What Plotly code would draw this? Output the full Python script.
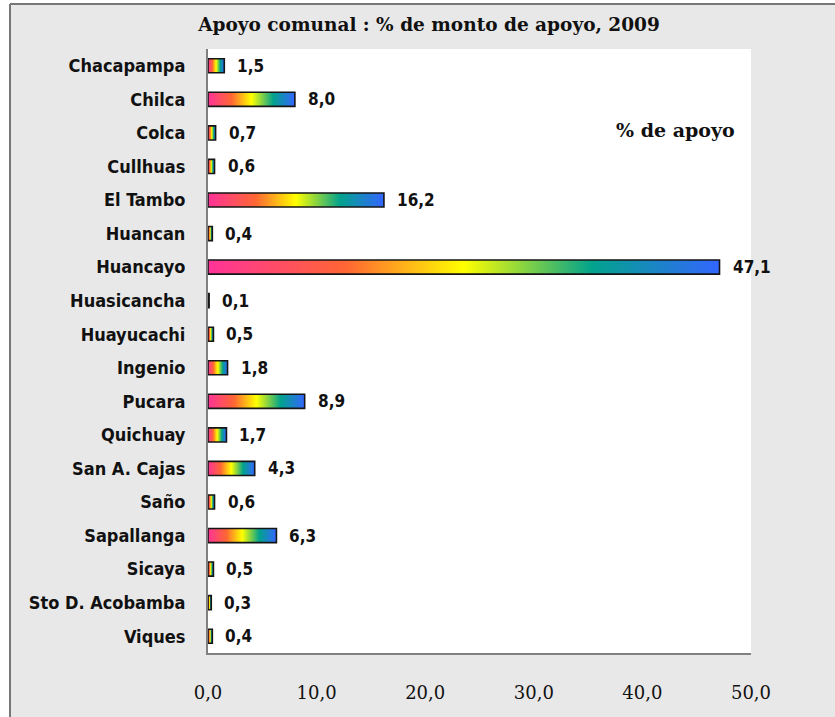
import plotly.graph_objects as go

categories = ["Chacapampa", "Chilca", "Colca", "Cullhuas", "El Tambo", "Huancan",
              "Huancayo", "Huasicancha", "Huayucachi", "Ingenio", "Pucara", "Quichuay",
              "San A. Cajas", "Saño", "Sapallanga", "Sicaya", "Sto D. Acobamba", "Viques"]
values = [1.5, 8.0, 0.7, 0.6, 16.2, 0.4, 47.1, 0.1, 0.5, 1.8, 8.9, 1.7, 4.3, 0.6, 6.3, 0.5, 0.3, 0.4]
x_ticks = [0, 10, 20, 30, 40, 50]

title_text = "Apoyo comunal : % de monto de apoyo, 2009"
legend_text = "% de apoyo"

W, H = 835, 717
ML, MR, MT, MB = 208, 84, 49, 64
PW, PH = W - ML - MR, H - MT - MB

rainbow = [[0.0, "#ff3399"], [0.27, "#ff6633"], [0.5, "#ffff00"],
           [0.75, "#02a38c"], [1.0, "#3366ff"]]

LABEL_FONT = "DejaVu Sans Condensed, Arial Narrow, sans-serif"
SERIF = "DejaVu Serif, Cambria, serif"

fig = go.Figure()
half = 0.21
for i, (cat, v) in enumerate(zip(categories, values)):
    fig.add_trace(go.Scatter(
        x=[0, v, v, 0, 0],
        y=[i - half, i - half, i + half, i + half, i - half],
        mode="lines", fill="toself",
        fillgradient=dict(type="horizontal", colorscale=rainbow),
        line=dict(color="#151515", width=1.6),
        name=cat, showlegend=False, hoverinfo="skip",
    ))

annotations = []
for i, v in enumerate(values):
    annotations.append(dict(
        x=v, y=i, xref="x", yref="y", text="<b>" + f"{v:.1f}".replace(".", ",") + "</b>",
        showarrow=False, xanchor="left", yanchor="middle", xshift=11,
        font=dict(family=LABEL_FONT, size=17, color="#111111"),
    ))
annotations.append(dict(
    x=(737 - ML) / PW, y=(MT + PH - 130) / PH, xref="paper", yref="paper",
    text="<b>" + legend_text + "</b>", showarrow=False, xanchor="right", yanchor="middle",
    font=dict(family=SERIF, size=19, color="#111111"),
))

shapes = [
    dict(type="rect", xref="paper", yref="paper", x0=-1, x1=(10 - ML) / PW,
         y0=-1, y1=2, fillcolor="white", line=dict(width=0), layer="above"),
    dict(type="rect", xref="paper", yref="paper", x0=-1, x1=2,
         y0=(MT + PH - 4) / PH, y1=2, fillcolor="white", line=dict(width=0), layer="above"),
    dict(type="line", xref="paper", yref="paper", x0=(10 - ML) / PW, x1=(10 - ML) / PW,
         y0=-1, y1=(MT + PH - 4) / PH, line=dict(color="#777777", width=2), layer="above"),
    dict(type="line", xref="paper", yref="paper", x0=(10 - ML) / PW, x1=2,
         y0=(MT + PH - 4) / PH, y1=(MT + PH - 4) / PH, line=dict(color="#777777", width=2),
         layer="above"),
]

fig.update_layout(
    width=W, height=H,
    margin=dict(l=ML, r=MR, t=MT, b=MB, autoexpand=False),
    paper_bgcolor="#e8e8e8", plot_bgcolor="white",
    separators=",.",
    title=dict(text="<b>" + title_text + "</b>", x=(429 - ML) / PW, xref="paper",
               xanchor="center", y=1 - 25 / H, yanchor="middle",
               font=dict(family=SERIF, size=18.5, color="#111111")),
    xaxis=dict(range=[0, 50], tickvals=x_ticks, tickformat=".1f", showgrid=False,
               zeroline=False, showline=True, linecolor="#808080", linewidth=2,
               ticks="", ticklabelstandoff=22, fixedrange=True,
               tickfont=dict(family=SERIF, size=18, color="#111111")),
    yaxis=dict(range=[len(categories) - 0.5, -0.5], tickvals=list(range(len(categories))),
               ticktext=["<b>" + c + "</b>" for c in categories], showgrid=False,
               zeroline=False, showline=True, fixedrange=True,
               linecolor="#808080", linewidth=2, ticks="", ticklabelstandoff=17,
               tickfont=dict(family=LABEL_FONT, size=18, color="#111111")),
    annotations=annotations, shapes=shapes,
)

fig.write_html("out.html", config={"displayModeBar": False},
               post_script="document.body.style.margin='0px';document.body.style.overflow='hidden';")
